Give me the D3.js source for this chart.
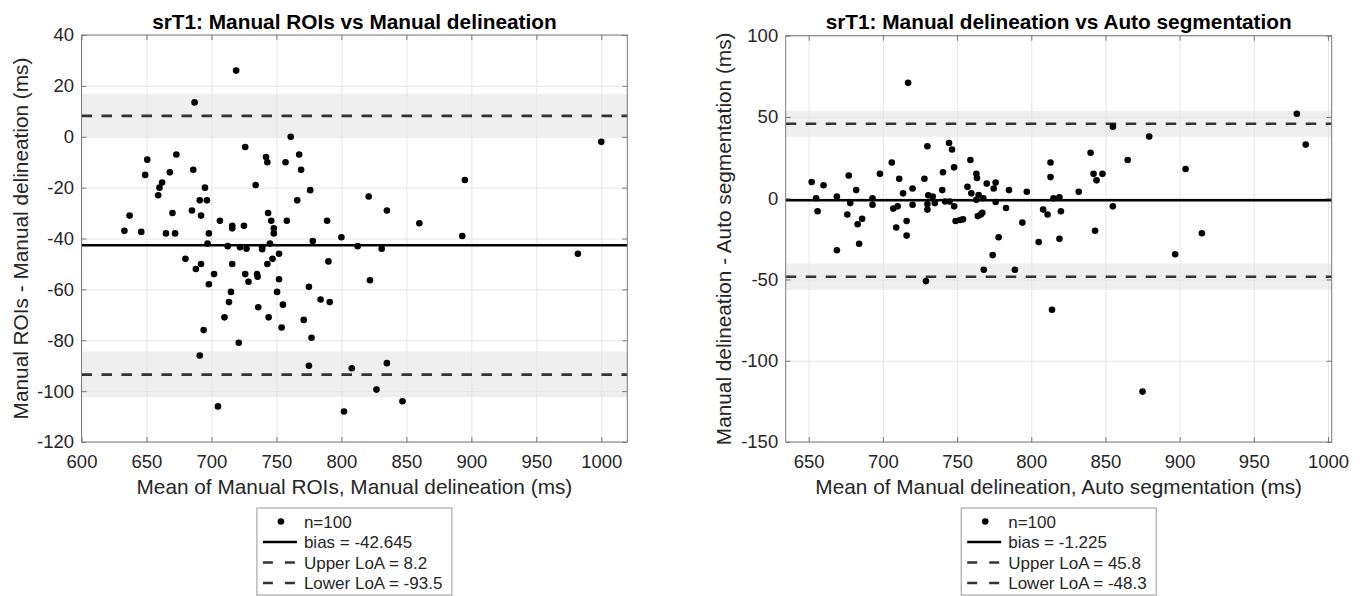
<!DOCTYPE html>
<html>
<head>
<meta charset="utf-8">
<script src="https://cdn.jsdelivr.net/npm/d3@7"></script>
<style>
body { margin: 0; background: #fff; }
text { font-family: "Liberation Sans", Arial, Helvetica, sans-serif; }
</style>
</head>
<body>
<svg id="chart" width="1365" height="596"></svg>
<script>
/*
/   Data
*/

// Left panel: Manual ROIs vs Manual delineation
const meanRoiVsManual = [
    719, 687, 761, 1000, 726, 673, 767.5, 742, 743, 757,
    650.6, 649, 668, 686, 769, 895, 734, 662, 660, 659,
    695, 776, 821, 691, 696.5, 766, 835, 685, 637, 670,
    692, 743.6, 706.5, 746, 758, 789, 860, 716, 725, 716,
    748, 633, 646, 665, 672, 698, 748, 893, 800, 778,
    697, 745, 712.5, 722, 727, 739, 739, 812.5, 831, 982,
    752, 680, 747, 790, 688, 692, 716, 743, 702, 726,
    735, 735.5, 752, 728.5, 822, 698, 775, 715, 750.5, 713.5,
    755, 784, 791, 736, 710, 744, 771, 754, 694, 777,
    721, 691, 775, 808, 835, 827, 847, 705, 802
];
const diffRoiVsManual = [
    26, 13.5, 0, -2, -4, -7, -7, -8, -10, -10,
    -9, -15, -14, -13, -13, -17, -19, -18, -20, -23,
    -20, -21, -23.5, -25, -25, -25, -29, -29, -31, -30,
    -31, -30, -33, -33, -33, -33, -34, -35, -35, -36,
    -36, -37, -37.4, -38, -38, -38, -38, -39, -39.5, -41,
    -42, -42, -43, -43.4, -44, -44.2, -43.4, -43, -44, -46,
    -46, -48, -48, -49, -52, -50, -50, -50, -54, -54,
    -54, -55, -56, -57, -56.4, -58, -59, -61, -61, -65,
    -66, -64, -65, -67, -71, -71, -72, -75, -76, -79,
    -81, -86, -90, -91, -89, -99.4, -104, -106, -108
];

// Right panel: Manual delineation vs Auto segmentation
const meanManualVsAuto = [
    717, 855, 879.5, 730, 744.6, 746.6, 706, 759, 840, 813,
    865, 904, 748, 677, 698, 711, 728, 740.5, 763, 763.4,
    813, 842, 848, 844, 652, 660, 682, 713.6, 720, 740,
    757, 759.6, 770, 776, 774.7, 785, 797, 832, 655, 669,
    693, 730.6, 733.6, 764.5, 767.7, 815, 819, 656, 678, 693,
    720, 735, 730, 730, 742, 745, 748, 763, 776, 783,
    710, 707, 855, 820, 808, 811, 676, 686, 683, 716,
    709, 749, 752, 754, 764, 766, 767, 794, 716, 684,
    669, 778, 805, 819, 843, 897, 774, 768, 789, 729,
    814, 915, 979, 985, 875
];
const diffManualVsAuto = [
    71, 44, 38, 32, 34, 30, 22, 23.5, 28, 22,
    23.5, 18, 19, 14, 15, 12, 12, 16, 15, 12.4,
    13, 15, 15, 11, 10, 8, 5, 3, 6, 5,
    7, 3, 9, 9.6, 6, 5, 4, 4, 0, 1,
    0, 1.8, 1, 2, 0, 0, 0.5, -8, -3, -4,
    -4, -3, -3.6, -7, -2, -2, -5, -1, -2.3, -6,
    -5, -6.4, -5, -8, -7, -10, -10, -12.6, -16, -14,
    -18, -14, -13.4, -13, -11, -10, -9, -15, -23, -28,
    -32, -24, -27, -25, -20, -34.5, -35, -44, -44, -51,
    -68.6, -21.6, 52, 33, -119
];

// Summary lines: [left, right]
const biasValues = [-42.645, -1.225];
const upperLoA = [8.2, 45.8];
const lowerLoA = [-93.5, -48.3];
// confidence bands round the limits of agreement [low, high]
const upperBands = [[0, 16.9], [37.8, 53.7]];
const lowerBands = [[-102.3, -84.4], [-56.5, -40.2]];

const titles = ["srT1: Manual ROIs vs Manual delineation", "srT1: Manual delineation vs Auto segmentation"];
const xLabels = ["Mean of Manual ROIs, Manual delineation (ms)", "Mean of Manual delineation, Auto segmentation (ms)"];
const yLabels = ["Manual ROIs - Manual delineation (ms)", "Manual delineation - Auto segmentation (ms)"];
const xTicks = [[600, 650, 700, 750, 800, 850, 900, 950, 1000], [650, 700, 750, 800, 850, 900, 950, 1000]];
const yTicks = [[-120, -100, -80, -60, -40, -20, 0, 20, 40], [-150, -100, -50, 0, 50, 100]];
const nLabel = "n=100";

const svg = d3.select("#chart");

/*
/   One Bland-Altman panel
*/

function drawPanel(p) 
{
    const g = svg.append("g");
    const x = d3.scaleLinear().domain(p.xDomain).range([p.left, p.right]);
    const y = d3.scaleLinear().domain(p.yDomain).range([p.bottom, p.top]);
    const w = p.right - p.left;
    const h = p.bottom - p.top;

    // grey bands around LoA
    p.bands.forEach(b => {
        g.append("rect")
            .attr("x", p.left)
            .attr("width", w)
            .attr("y", y(b[1]))
            .attr("height", y(b[0]) - y(b[1]))
            .attr("fill", "#efefef");
    });

    // grid lines
    const gridX = g.append("g")
        .attr("transform", `translate(0,${p.bottom})`)
        .call(d3.axisBottom(x).tickValues(p.xTicks).tickSize(-h).tickFormat(""));
    const gridY = g.append("g")
        .attr("transform", `translate(${p.left},0)`)
        .call(d3.axisLeft(y).tickValues(p.yTicks).tickSize(-w).tickFormat(""));
    [gridX, gridY].forEach(s => {
        s.select(".domain").remove();
        s.selectAll("line").attr("stroke", "#e6e6e6").attr("stroke-width", 1);
    });

    // bias + limits of agreement
    g.append("line")
        .attr("x1", p.left).attr("x2", p.right)
        .attr("y1", y(p.bias)).attr("y2", y(p.bias))
        .attr("stroke", "#000").attr("stroke-width", 2.6);

    [p.upper, p.lower].forEach(v => {
        g.append("line")
            .attr("x1", p.left).attr("x2", p.right)
            .attr("y1", y(v)).attr("y2", y(v))
            .attr("stroke", "#333").attr("stroke-width", 2.6)
            .attr("stroke-dasharray", "10.5,9.5");
    });

    // points
    g.append("g")
        .selectAll("circle")
        .data(d3.zip(p.xs, p.ys))
        .join("circle")
        .attr("cx", d => x(d[0]))
        .attr("cy", d => y(d[1]))
        .attr("r", 3.3)
        .attr("fill", "#000");

    // axes with inward ticks on all sides
    const fmt = d => String(d);
    const axB = g.append("g").attr("transform", `translate(0,${p.bottom})`)
        .call(d3.axisBottom(x).tickValues(p.xTicks).tickSize(-5).tickSizeOuter(0).tickPadding(13).tickFormat(fmt));
    const axL = g.append("g").attr("transform", `translate(${p.left},0)`)
        .call(d3.axisLeft(y).tickValues(p.yTicks).tickSize(-5).tickSizeOuter(0).tickPadding(7.5).tickFormat(fmt));
    const axT = g.append("g").attr("transform", `translate(0,${p.top})`)
        .call(d3.axisTop(x).tickValues(p.xTicks).tickSize(-5).tickSizeOuter(0).tickFormat(""));
    const axR = g.append("g").attr("transform", `translate(${p.right},0)`)
        .call(d3.axisRight(y).tickValues(p.yTicks).tickSize(-5).tickSizeOuter(0).tickFormat(""));
    [axB, axL, axT, axR].forEach(a => {
        a.select(".domain").remove();
        a.selectAll("line").attr("stroke", "#7a7a7a");
        a.selectAll("text")
            .attr("fill", "#262626")
            .style("font-family", "'Liberation Sans', Arial, sans-serif")
            .style("font-size", "18.5px");
    });

    // frame
    g.append("rect")
        .attr("x", p.left).attr("y", p.top)
        .attr("width", w).attr("height", h)
        .attr("fill", "none")
        .attr("stroke", "#7a7a7a");

    // title + labels
    const cx = (p.left + p.right) / 2;
    g.append("text")
        .attr("x", cx).attr("y", 28.5)
        .attr("text-anchor", "middle")
        .style("font-size", "20.8px")
        .style("font-weight", "bold")
        .text(p.title);

    g.append("text")
        .attr("x", cx).attr("y", 494)
        .attr("text-anchor", "middle")
        .attr("fill", "#262626")
        .style("font-size", "20.8px")
        .text(p.xLabel);

    g.append("text")
        .attr("transform", `translate(${p.yLabelX},${(p.top + p.bottom) / 2}) rotate(-90)`)
        .attr("text-anchor", "middle")
        .attr("fill", "#262626")
        .style("font-size", "20.8px")
        .text(p.yLabel);

    // legend
    const lw = 195, lh = 87;
    const lx = cx - lw / 2, ly = 508;
    const leg = g.append("g").attr("transform", `translate(${lx},${ly})`);
    leg.append("rect")
        .attr("width", lw).attr("height", lh)
        .attr("fill", "#fff").attr("stroke", "#999");

    const rows = [
        { kind: "dot", label: nLabel },
        { kind: "solid", label: "bias = " + p.bias },
        { kind: "dash", label: "Upper LoA = " + p.upper },
        { kind: "dash", label: "Lower LoA = " + p.lower }
    ];
    rows.forEach((r, i) => {
        const ry = 13.5 + i * 20.5;
        if (r.kind == "dot") {
            leg.append("circle").attr("cx", 24).attr("cy", ry).attr("r", 3.3).attr("fill", "#000");
        } else {
            leg.append("line")
                .attr("x1", 6).attr("x2", 40)
                .attr("y1", ry).attr("y2", ry)
                .attr("stroke", r.kind == "solid" ? "#000" : "#333")
                .attr("stroke-width", 2.6)
                .attr("stroke-dasharray", r.kind == "dash" ? "10,12" : null);
        }
        leg.append("text")
            .attr("x", 47).attr("y", ry)
            .attr("dy", "0.36em")
            .attr("fill", "#262626")
            .style("font-size", "17px")
            .text(r.label);
    });
}

drawPanel({
    left: 81.5, right: 627.3, top: 35, bottom: 442,
    xDomain: [600, 1020], yDomain: [-120, 40],
    xTicks: xTicks[0], yTicks: yTicks[0],
    xs: meanRoiVsManual, ys: diffRoiVsManual,
    bias: biasValues[0], upper: upperLoA[0], lower: lowerLoA[0],
    bands: [upperBands[0], lowerBands[0]],
    title: titles[0], xLabel: xLabels[0], yLabel: yLabels[0],
    yLabelX: 28
});

drawPanel({
    left: 785.7, right: 1331.7, top: 35.7, bottom: 442,
    xDomain: [634.5, 1002.5], yDomain: [-150, 100],
    xTicks: xTicks[1], yTicks: yTicks[1],
    xs: meanManualVsAuto, ys: diffManualVsAuto,
    bias: biasValues[1], upper: upperLoA[1], lower: lowerLoA[1],
    bands: [upperBands[1], lowerBands[1]],
    title: titles[1], xLabel: xLabels[1], yLabel: yLabels[1],
    yLabelX: 731
});
</script>
</body>
</html>
